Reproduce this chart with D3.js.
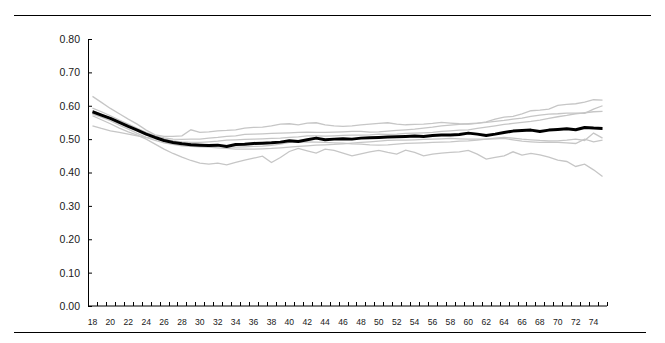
<!DOCTYPE html>
<html>
<head>
<meta charset="utf-8">
<script src="https://cdn.jsdelivr.net/npm/d3@7"></script>
<style>
    html, body { margin: 0; padding: 0; background: #fff; }
    #chart { width: 665px; height: 343px; }
    text { font-family: Arial, "Liberation Sans", sans-serif; fill: #1a1a1a; }
</style>
</head>
<body>
<div id="chart"></div>
<script>
// Ages on the x axis (one band per year)
const ages = d3.range(18, 76);

// Y axis tick values
const yTicks = [0, 0.1, 0.2, 0.3, 0.4, 0.5, 0.6, 0.7, 0.8];

// Average line (black)
const meanSeries = [
    0.582, 0.572, 0.562, 0.550, 0.538, 0.527, 0.515, 0.505, 0.496, 0.490,
    0.486, 0.483, 0.482, 0.481, 0.482, 0.478, 0.484, 0.485, 0.487, 0.488,
    0.489, 0.491, 0.495, 0.493, 0.498, 0.503, 0.498, 0.500, 0.501, 0.500,
    0.503, 0.504, 0.505, 0.506, 0.507, 0.508, 0.509, 0.508, 0.511, 0.512,
    0.512, 0.514, 0.518, 0.515, 0.511, 0.515, 0.520, 0.524, 0.526, 0.527,
    0.523, 0.527, 0.529, 0.531, 0.528, 0.535, 0.533, 0.532
];

// Individual lines (grey)
const series1 = [
    0.628, 0.610, 0.592, 0.576, 0.560, 0.545, 0.527, 0.513, 0.508, 0.508,
    0.510, 0.528, 0.520, 0.522, 0.525, 0.526, 0.528, 0.533, 0.535, 0.536,
    0.540, 0.545, 0.546, 0.543, 0.548, 0.549, 0.543, 0.540, 0.538, 0.540,
    0.543, 0.545, 0.547, 0.549, 0.545, 0.543, 0.544, 0.545, 0.547, 0.550,
    0.548, 0.546, 0.545, 0.547, 0.552, 0.560, 0.566, 0.568, 0.576, 0.585,
    0.587, 0.590, 0.601, 0.604, 0.606, 0.611, 0.618, 0.617
];
const series2 = [
    0.593, 0.582, 0.570, 0.557, 0.545, 0.532, 0.520, 0.510, 0.504, 0.500,
    0.499, 0.500, 0.500, 0.503, 0.505, 0.508, 0.510, 0.514, 0.515, 0.516,
    0.517, 0.518, 0.519, 0.520, 0.521, 0.520, 0.520, 0.521, 0.522, 0.523,
    0.523, 0.521, 0.522, 0.524, 0.526, 0.528, 0.530, 0.533, 0.536, 0.540,
    0.542, 0.544, 0.546, 0.548, 0.550, 0.553, 0.556, 0.560, 0.563, 0.568,
    0.572, 0.575, 0.576, 0.578, 0.578, 0.577, 0.590, 0.600
];
const series3 = [
    0.585, 0.575, 0.563, 0.551, 0.540, 0.527, 0.515, 0.506, 0.500, 0.495,
    0.492, 0.490, 0.490, 0.492, 0.494, 0.497, 0.498, 0.499, 0.500, 0.501,
    0.502, 0.503, 0.505, 0.507, 0.510, 0.510, 0.509, 0.510, 0.511, 0.512,
    0.512, 0.513, 0.515, 0.514, 0.515, 0.517, 0.518, 0.519, 0.520, 0.523,
    0.525, 0.527, 0.528, 0.532, 0.536, 0.540, 0.544, 0.547, 0.550, 0.553,
    0.557, 0.562, 0.567, 0.571, 0.576, 0.579, 0.582, 0.583
];
const series4 = [
    0.575, 0.566, 0.555, 0.542, 0.530, 0.517, 0.505, 0.496, 0.489, 0.484,
    0.480, 0.478, 0.477, 0.476, 0.474, 0.472, 0.470, 0.470, 0.470, 0.471,
    0.472, 0.474, 0.476, 0.478, 0.480, 0.482, 0.483, 0.484, 0.486, 0.488,
    0.490, 0.492, 0.494, 0.496, 0.497, 0.497, 0.498, 0.499, 0.500, 0.501,
    0.502, 0.501, 0.500, 0.500, 0.500, 0.501, 0.502, 0.498, 0.494, 0.492,
    0.490, 0.491, 0.490, 0.489, 0.487, 0.500, 0.492, 0.497
];
const series5 = [
    0.540, 0.532, 0.525, 0.520, 0.515, 0.510, 0.505, 0.502, 0.499, 0.494,
    0.490, 0.487, 0.485, 0.482, 0.480, 0.477, 0.476, 0.477, 0.478, 0.479,
    0.481, 0.485, 0.490, 0.491, 0.492, 0.491, 0.490, 0.489, 0.488, 0.486,
    0.485, 0.483, 0.482, 0.483, 0.485, 0.487, 0.488, 0.489, 0.490, 0.491,
    0.492, 0.494, 0.495, 0.497, 0.500, 0.503, 0.505, 0.503, 0.500, 0.498,
    0.496, 0.495, 0.495, 0.497, 0.500, 0.496, 0.518, 0.503
];
const series6 = [
    0.570, 0.558, 0.546, 0.533, 0.522, 0.512, 0.500, 0.485, 0.470, 0.457,
    0.446, 0.436, 0.428, 0.425, 0.428, 0.423, 0.430, 0.437, 0.443, 0.449,
    0.430, 0.445, 0.463, 0.472, 0.465, 0.458, 0.470, 0.466, 0.458, 0.450,
    0.456, 0.462, 0.466, 0.460, 0.455, 0.467, 0.460, 0.450, 0.455, 0.458,
    0.460, 0.462, 0.466, 0.455, 0.440, 0.445, 0.450, 0.462, 0.452, 0.457,
    0.453, 0.446, 0.437, 0.433, 0.418, 0.425, 0.408, 0.388
];

const greySeries = [series1, series2, series3, series4, series5, series6];

document.addEventListener('DOMContentLoaded', function() {
    createChart();
});

function createChart() {
    const svgWidth = 665, svgHeight = 343;

    // Plot area in page coordinates
    const margin = {top: 39, right: 58, bottom: 37, left: 88};
    const width = svgWidth - margin.left - margin.right;
    const height = svgHeight - margin.top - margin.bottom;

    const root = d3.select("#chart")
    .append("svg")
    .attr("width", svgWidth)
    .attr("height", svgHeight);

    // Frame rules above and below the chart
    root.append("line")
    .attr("x1", 14).attr("x2", 651)
    .attr("y1", 15.5).attr("y2", 15.5)
    .style("stroke", "#000")
    .style("stroke-width", 1);

    root.append("line")
    .attr("x1", 14).attr("x2", 646)
    .attr("y1", 332.5).attr("y2", 332.5)
    .style("stroke", "#000")
    .style("stroke-width", 1);

    const svg = root.append("g")
    .attr("transform", `translate(${margin.left},${margin.top})`);

    // Scales
    const xScale = d3.scaleBand()
    .domain(ages)
    .range([0, width]);

    const yScale = d3.scaleLinear()
    .domain([0, 0.8])
    .range([height, 0]);

    // Y axis, ticks pointing into the plot
    const yAxis = svg.append("g")
    .call(d3.axisLeft(yScale)
        .tickValues(yTicks)
        .tickFormat(d3.format(".2f"))
        .tickSizeInner(-4)
        .tickSizeOuter(0)
        .tickPadding(8));

    yAxis.select(".domain").style("stroke", "#000");
    yAxis.selectAll(".tick line").style("stroke", "#000");
    yAxis.selectAll("text")
    .style("font-size", "10.5px")
    .style("font-family", "Arial, 'Liberation Sans', sans-serif")
    .style("fill", "#1a1a1a");

    // X axis baseline
    svg.append("line")
    .attr("x1", 0).attr("x2", width)
    .attr("y1", height).attr("y2", height)
    .style("stroke", "#000")
    .style("stroke-width", 1);

    // X ticks at band edges, pointing up
    const edges = ages.map(a => xScale(a)).concat([xScale.range()[1]]);
    svg.selectAll(".x-tick")
    .data(edges)
    .enter()
    .append("line")
    .attr("class", "x-tick")
    .attr("x1", d => Math.round(d) + 0.5)
    .attr("x2", d => Math.round(d) + 0.5)
    .attr("y1", height)
    .attr("y2", height - 4)
    .style("stroke", "#000")
    .style("stroke-width", 1);

    // X labels every second year
    svg.selectAll(".x-label")
    .data(ages.filter(a => a % 2 === 0))
    .enter()
    .append("text")
    .attr("class", "x-label")
    .attr("x", d => xScale(d) + xScale.bandwidth() / 2)
    .attr("y", height + 19)
    .attr("text-anchor", "middle")
    .style("font-size", "8.6px")
    .text(d => d);

    const line = d3.line()
    .x((d, i) => xScale(ages[i]) + xScale.bandwidth() / 2)
    .y(d => yScale(d));

    // Grey lines
    svg.selectAll(".grey-line")
    .data(greySeries)
    .enter()
    .append("path")
    .attr("class", "grey-line")
    .attr("d", line)
    .style("fill", "none")
    .style("stroke", "#c6c6c6")
    .style("stroke-width", 1.3);

    // Average line
    svg.append("path")
    .datum(meanSeries)
    .attr("d", line)
    .style("fill", "none")
    .style("stroke", "#000")
    .style("stroke-width", 3)
    .style("stroke-linejoin", "round");
}
</script>
</body>
</html>
